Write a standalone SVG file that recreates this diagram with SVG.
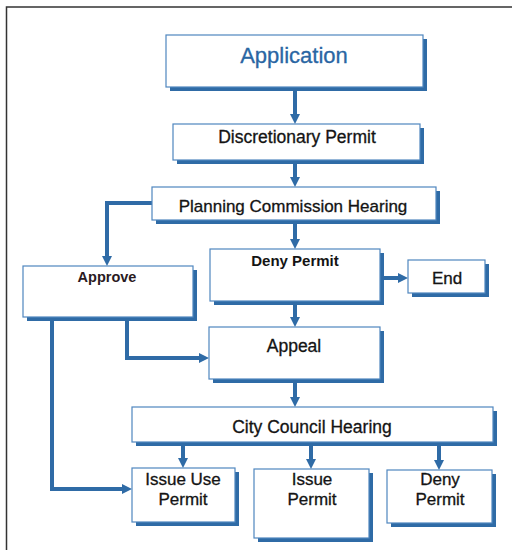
<svg xmlns="http://www.w3.org/2000/svg" width="512" height="552" viewBox="0 0 512 552">
  <style>
    .shadow { fill: #2f6ba6; }
    .box { fill: #ffffff; stroke: #4f86bf; stroke-width: 1.2; }
    .label { font-family: "Liberation Sans", Arial, sans-serif; fill: #141414; stroke: #141414; stroke-width: 0.3; text-anchor: middle; }
    .conn { fill: none; stroke: #2f6ba6; stroke-width: 4; stroke-linejoin: miter; }
  </style>
  <defs>
    <marker id="arrow" viewBox="0 0 10 10" refX="1" refY="5" markerWidth="10" markerHeight="12" markerUnits="userSpaceOnUse" orient="auto">
      <path d="M0,0 L10,5 L0,10 z" fill="#2f6ba6"/>
    </marker>
  </defs>

  <rect width="512" height="552" fill="#ffffff"/>
  <!-- outer frame -->
  <path d="M6.5,550 V7 H512" fill="none" stroke="#333333" stroke-width="1.5"/>

  <!-- connectors -->
  <g id="connectors">
    <path class="conn" d="M295,91 V115" marker-end="url(#arrow)"/>
    <path class="conn" d="M295,164 V178" marker-end="url(#arrow)"/>
    <path class="conn" d="M152,203 H107 V257" marker-end="url(#arrow)"/>
    <path class="conn" d="M295,224 V240" marker-end="url(#arrow)"/>
    <path class="conn" d="M384,278 H399" marker-end="url(#arrow)"/>
    <path class="conn" d="M295,305 V318" marker-end="url(#arrow)"/>
    <path class="conn" d="M127,321 V358 H200" marker-end="url(#arrow)"/>
    <path class="conn" d="M52,321 V489 H123" marker-end="url(#arrow)"/>
    <path class="conn" d="M295,383 V398" marker-end="url(#arrow)"/>
    <path class="conn" d="M183,446 V459" marker-end="url(#arrow)"/>
    <path class="conn" d="M311,446 V460" marker-end="url(#arrow)"/>
    <path class="conn" d="M439,446 V461" marker-end="url(#arrow)"/>
  </g>

  <g id="application">
    <rect class="shadow" x="170" y="39" width="257" height="52"/>
    <rect class="box" x="166" y="35" width="257" height="52"/>
    <text class="label" x="294" y="63" font-size="22" style="fill:#2a66a3;stroke:#2a66a3">Application</text>
  </g>

  <g id="discretionary-permit">
    <rect class="shadow" x="177" y="128" width="247" height="36"/>
    <rect class="box" x="173" y="124" width="247" height="36"/>
    <text class="label" x="297" y="143" font-size="17.5">Discretionary Permit</text>
  </g>

  <g id="planning-commission">
    <rect class="shadow" x="156" y="191" width="284" height="33"/>
    <rect class="box" x="152" y="187" width="284" height="33"/>
    <text class="label" x="293" y="212" font-size="17">Planning Commission Hearing</text>
  </g>

  <g id="approve">
    <rect class="shadow" x="27" y="270" width="170" height="51"/>
    <rect class="box" x="23" y="266" width="170" height="51"/>
    <text class="label" x="107" y="282" font-size="14.5" font-weight="bold" style="fill:#2a1a22;stroke:none">Approve</text>
  </g>

  <g id="deny-permit-pc">
    <rect class="shadow" x="214" y="253" width="170" height="52"/>
    <rect class="box" x="210" y="249" width="170" height="52"/>
    <text class="label" x="295" y="266" font-size="15" font-weight="bold" style="stroke:none">Deny Permit</text>
  </g>

  <g id="end">
    <rect class="shadow" x="412" y="264" width="77" height="33"/>
    <rect class="box" x="408" y="260" width="77" height="33"/>
    <text class="label" x="447" y="284" font-size="17">End</text>
  </g>

  <g id="appeal">
    <rect class="shadow" x="213" y="331" width="171" height="52"/>
    <rect class="box" x="209" y="327" width="171" height="52"/>
    <text class="label" x="294" y="352" font-size="17.5">Appeal</text>
  </g>

  <g id="city-council">
    <rect class="shadow" x="136" y="411" width="361" height="35"/>
    <rect class="box" x="132" y="407" width="361" height="35"/>
    <text class="label" x="312" y="433" font-size="17.5">City Council Hearing</text>
  </g>

  <g id="issue-use-permit">
    <rect class="shadow" x="136" y="472" width="103" height="54"/>
    <rect class="box" x="132" y="468" width="103" height="54"/>
    <text class="label" x="183" y="485" font-size="17">Issue Use</text>
    <text class="label" x="183" y="505" font-size="17">Permit</text>
  </g>

  <g id="issue-permit">
    <rect class="shadow" x="258" y="473" width="115" height="69"/>
    <rect class="box" x="254" y="469" width="115" height="69"/>
    <text class="label" x="312" y="485" font-size="17">Issue</text>
    <text class="label" x="312" y="505" font-size="17">Permit</text>
  </g>

  <g id="deny-permit-cc">
    <rect class="shadow" x="391" y="474" width="105" height="53"/>
    <rect class="box" x="387" y="470" width="105" height="53"/>
    <text class="label" x="440" y="485" font-size="17">Deny</text>
    <text class="label" x="440" y="505" font-size="17">Permit</text>
  </g>
</svg>
